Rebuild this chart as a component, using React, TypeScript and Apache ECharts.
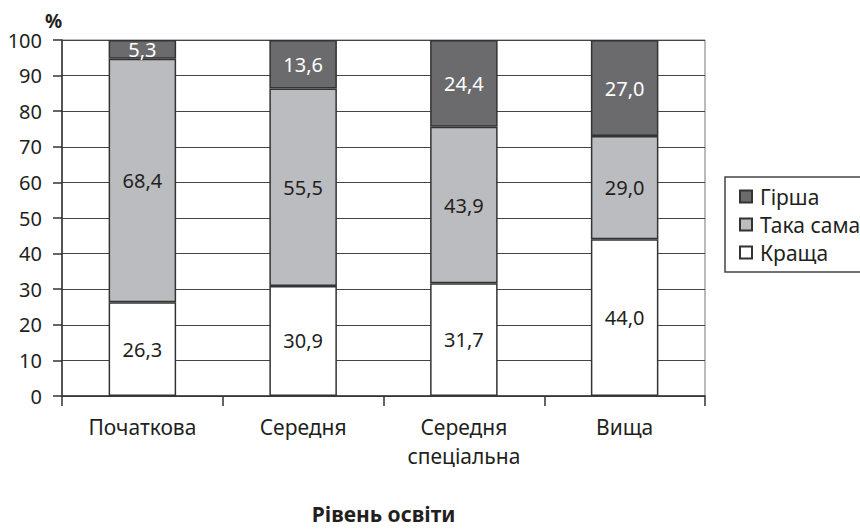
import React, { useEffect, useRef } from "react";
import * as echarts from "echarts";

const categories = ["Початкова", "Середня", "Середня\nспеціальна", "Вища"];
const better = [26.3, 30.9, 31.7, 44.0];
const same = [68.4, 55.5, 43.9, 29.0];
const worse = [5.3, 13.6, 24.4, 27.0];
const seriesNames = ["Краща", "Така сама", "Гірша"];
const yTicks = { min: 0, max: 100, interval: 10 };

const FONT = "'Noto Sans', sans-serif";
const TEXT = "#231f20";

export default function App() {
  const ref = useRef<HTMLDivElement>(null);
  useEffect(() => {
    if (!ref.current) return;
    const chart = echarts.init(ref.current, null, { renderer: "svg" });
    const fmt = (p: any) => Number(p.value).toFixed(1).replace(".", ",");
    const mk = (name: string, data: number[], color: string, labelColor: string) => ({
      name,
      type: "bar",
      stack: "total",
      data,
      barCategoryGap: "58%",
      itemStyle: { color, borderColor: "#333", borderWidth: 1.5 },
      label: {
        show: true,
        position: "inside",
        formatter: fmt,
        color: labelColor,
        fontSize: 20,
        fontFamily: FONT,
      },
    });
    chart.setOption({
      animation: false,
      textStyle: { fontFamily: FONT, color: TEXT },
      grid: {
        left: 62,
        right: 155,
        top: 40,
        bottom: 116,
        containLabel: false,
        show: true,
        borderColor: "#777",
        borderWidth: 1,
      },
      legend: {
        orient: "vertical",
        left: 725,
        top: 177,
        data: [seriesNames[2], seriesNames[1], seriesNames[0]],
        icon: "rect",
        itemWidth: 12,
        itemHeight: 12,
        itemGap: 7,
        padding: [9, 20, 9, 14],
        borderColor: "#444",
        borderWidth: 1.5,
        textStyle: { fontSize: 21, fontFamily: FONT, color: TEXT, padding: [0, 0, 0, 3] },
      },
      xAxis: {
        type: "category",
        data: categories,
        name: "Рівень освіти",
        nameLocation: "middle",
        nameGap: 107,
        nameTextStyle: { fontSize: 21, fontWeight: "bold", fontFamily: FONT, color: TEXT },
        axisLine: { lineStyle: { color: "#333", width: 1.5 } },
        axisTick: { show: true, length: 10, interval: 0, lineStyle: { color: "#333", width: 1.5 } },
        axisLabel: { fontSize: 21, fontFamily: FONT, color: TEXT, margin: 16, lineHeight: 29, interval: 0 },
      },
      yAxis: {
        type: "value",
        min: yTicks.min,
        max: yTicks.max,
        interval: yTicks.interval,
        axisLine: { show: true, lineStyle: { color: "#333", width: 1.5 } },
        axisTick: { show: true, length: 9, lineStyle: { color: "#333", width: 1.5 } },
        axisLabel: { fontSize: 20, fontFamily: FONT, color: TEXT, margin: 20 },
        splitLine: { show: true, lineStyle: { color: "#444", width: 1.2 } },
      },
      graphic: [
        {
          type: "text",
          left: 45,
          top: 11,
          style: { text: "%", fontSize: 19, fontWeight: "bold", fontFamily: FONT, fill: TEXT },
        },
      ],
      series: [
        mk(seriesNames[0], better, "#ffffff", TEXT),
        mk(seriesNames[1], same, "#bbbcbf", TEXT),
        mk(seriesNames[2], worse, "#6b6b6e", "#ffffff"),
      ],
    });
    return () => chart.dispose();
  }, []);
  return (
    <div
      ref={ref}
      style={{ position: "fixed", left: 0, top: 0, width: 860, height: 529, background: "#fff" }}
    />
  );
}
